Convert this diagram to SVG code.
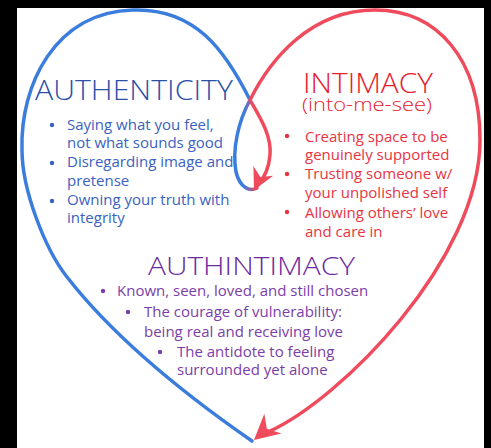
<svg xmlns="http://www.w3.org/2000/svg" width="491" height="448" viewBox="0 0 491 448">
<style>
.bg{fill:#000}
.blue{fill:none;stroke:#3b7ddd;stroke-width:3.5;stroke-linecap:round}
.red{fill:none;stroke:#ef4b5c;stroke-width:3.5;stroke-linecap:round}
.ah{fill:#ef4b5c}
.t{font-family:"Open Sans","Liberation Sans",sans-serif}
.h{font-size:28px;font-weight:300}
.b{font-size:15px}
.cb{fill:#3a62c0}
.cbt{fill:#2b50a8}
.cr{fill:#e8343f}
.crt{fill:#e8202d}
.cp{fill:#7b3ea8}
.cpt{fill:#6c2aa0}
</style>
<defs>
<path id="arrow" d="M0 0 L-25 -13 L-17 0 L-25 13 Z"/>
<linearGradient id="g" gradientUnits="userSpaceOnUse" x1="257" y1="0" x2="244" y2="0">
<stop offset="0" stop-color="#ef4b5c"/><stop offset="1" stop-color="#3b7ddd"/>
</linearGradient>
</defs>
<rect width="491" height="448" fill="#fff"/>
<rect class="bg" x="0" y="0" width="17" height="448"/>
<rect class="bg" x="0" y="0" width="491" height="8"/>
<rect class="bg" x="484" y="0" width="7" height="448"/>
<g id="connectors">
<path class="blue" d="M252 441 C200 405,120 345,67 277 C45 249,22 190,22 150 C20 85,55 12,133 10 C195 8,225 50,250 100"/>
<path class="red" d="M250 100 C258 114,272 135,270 155 C269 168,264 178,258 185"/>
<path fill="none" stroke="url(#g)" stroke-width="3.5" stroke-linecap="round" d="M257 188 C250 192,240 188,236 172 C232 150,238 122,250 100"/>
<path class="red" d="M250 100 C270 60,310 10,375 10 C438 10,480 60,480 140 C480 260,340 400,268 432"/>
<use href="#arrow" class="ah" transform="translate(254 190) rotate(116) scale(0.85)"/>
<use href="#arrow" class="ah" transform="translate(254 440) rotate(139)"/>
</g>
<g id="authenticity">
<text class="t h cbt" x="35" y="100" textLength="198" lengthAdjust="spacingAndGlyphs">AUTHENTICITY</text>
<circle class="cb" cx="52" cy="125" r="2.2"/>
<circle class="cb" cx="52" cy="163" r="2.2"/>
<circle class="cb" cx="52" cy="201" r="2.2"/>
<g class="t b cb">
<text x="67" y="130">Saying what you feel,</text>
<text x="67" y="148">not what sounds good</text>
<text x="67" y="167">Disregarding image and</text>
<text x="67" y="186">pretense</text>
<text x="67" y="205">Owning your truth with</text>
<text x="67" y="223">integrity</text>
</g>
</g>
<g id="intimacy">
<text class="t h crt" x="303" y="93" textLength="130" lengthAdjust="spacingAndGlyphs">INTIMACY</text>
<text class="t crt" x="302" y="111" font-size="19" font-weight="300" textLength="130" lengthAdjust="spacingAndGlyphs">(into-me-see)</text>
<circle class="cr" cx="287" cy="136" r="2.2"/>
<circle class="cr" cx="287" cy="174" r="2.2"/>
<circle class="cr" cx="287" cy="212" r="2.2"/>
<g class="t b cr">
<text x="305" y="142">Creating space to be</text>
<text x="305" y="160">genuinely supported</text>
<text x="305" y="179">Trusting someone w/</text>
<text x="305" y="198">your unpolished self</text>
<text x="305" y="218">Allowing others’ love</text>
<text x="305" y="237">and care in</text>
</g>
</g>
<g id="authintimacy">
<text class="t cpt" x="148" y="275" font-size="26" font-weight="300" textLength="207" lengthAdjust="spacingAndGlyphs">AUTHINTIMACY</text>
<circle class="cp" cx="103" cy="291" r="2.2"/>
<circle class="cp" cx="128" cy="312" r="2.2"/>
<circle class="cp" cx="160" cy="352" r="2.2"/>
<g class="t b cp">
<text x="117" y="296">Known, seen, loved, and still chosen</text>
<text x="144" y="317">The courage of vulnerability:</text>
<text x="144" y="337">being real and receiving love</text>
<text x="177" y="357">The antidote to feeling</text>
<text x="177" y="375">surrounded yet alone</text>
</g>
</g>
</svg>
